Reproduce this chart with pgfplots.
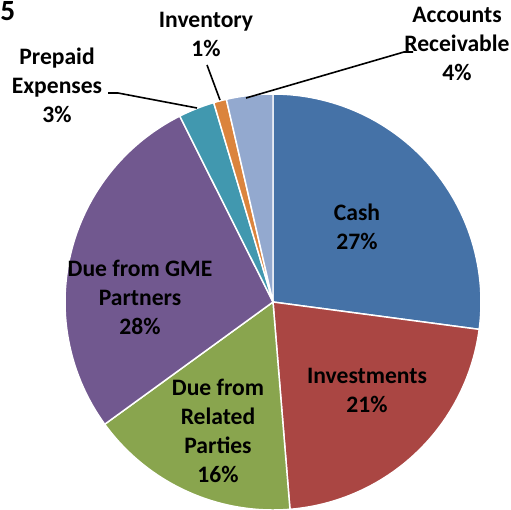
\documentclass[border=0pt]{standalone}
\usepackage{pgfplots}
\pgfplotsset{compat=1.18}
\usepackage{fontspec}
\setmainfont{Carlito}

\definecolor{cCash}{HTML}{4572A7}
\definecolor{cInv}{HTML}{AA4643}
\definecolor{cRel}{HTML}{89A54E}
\definecolor{cGME}{HTML}{71588F}
\definecolor{cPre}{HTML}{4198AF}
\definecolor{cInt}{HTML}{DB843D}
\definecolor{cAR}{HTML}{93A9CF}

\tikzset{
  slice/.style={draw=white, line width=1.1pt},
  lbl/.style={font=\fontsize{17.7}{21.75}\selectfont\bfseries, align=center, text=black},
}

% shares in percent, clockwise from 12 o'clock
\def\vCash{27.1}
\def\vInv{21.6}
\def\vRel{16.3}
\def\vGME{27.6}
\def\vPre{2.8}
\def\vInt{1.0}
\def\vAR{3.6}

\pgfmathsetmacro\aA{90}
\pgfmathsetmacro\aB{\aA-3.6*\vCash}
\pgfmathsetmacro\aC{\aB-3.6*\vInv}
\pgfmathsetmacro\aD{\aC-3.6*\vRel}
\pgfmathsetmacro\aE{\aD-3.6*\vGME}
\pgfmathsetmacro\aF{\aE-3.6*\vPre}
\pgfmathsetmacro\aG{\aF-3.6*\vInt}
\pgfmathsetmacro\aH{\aG-3.6*\vAR}

\begin{document}
\begin{tikzpicture}
\begin{axis}[
  width=383.25pt, height=382.5pt,
  scale only axis,
  hide axis,
  xmin=0, xmax=511,
  ymin=0, ymax=510,
  y dir=reverse,
  clip=false,
  samples=60,
]
  \addplot[slice, fill=cCash, domain=\aB:\aA] ({273+208*cos(x)},{302-208*sin(x)}) -- (axis cs:273,302) -- cycle;
  \addplot[slice, fill=cInv,  domain=\aC:\aB] ({273+208*cos(x)},{302-208*sin(x)}) -- (axis cs:273,302) -- cycle;
  \addplot[slice, fill=cRel,  domain=\aD:\aC] ({273+208*cos(x)},{302-208*sin(x)}) -- (axis cs:273,302) -- cycle;
  \addplot[slice, fill=cGME,  domain=\aE:\aD] ({273+208*cos(x)},{302-208*sin(x)}) -- (axis cs:273,302) -- cycle;
  \addplot[slice, fill=cPre,  domain=\aF:\aE, samples=10] ({273+208*cos(x)},{302-208*sin(x)}) -- (axis cs:273,302) -- cycle;
  \addplot[slice, fill=cInt,  domain=\aG:\aF, samples=5] ({273+208*cos(x)},{302-208*sin(x)}) -- (axis cs:273,302) -- cycle;
  \addplot[slice, fill=cAR,   domain=\aH:\aG, samples=10] ({273+208*cos(x)},{302-208*sin(x)}) -- (axis cs:273,302) -- cycle;

  % leader lines
  \draw[black, line width=1.2pt] (axis cs:108,93) -- (axis cs:118,93) -- (axis cs:197,108);
  \draw[black, line width=1.2pt] (axis cs:207,65) -- (axis cs:220,100);
  \draw[black, line width=1.2pt] (axis cs:413,52) -- (axis cs:404,52) -- (axis cs:246,98);

  \node[lbl] at (axis cs:357,227) {Cash\\27\%};
  \node[lbl] at (axis cs:367,390) {Investments\\21\%};
  \node[lbl] at (axis cs:218,431) {Due from\\Related\\Parties\\16\%};
  \node[lbl] at (axis cs:140,297) {Due from GME\\Partners\\28\%};
  \node[lbl] at (axis cs:57,85) {Prepaid\\Expenses\\3\%};
  \node[lbl] at (axis cs:206,34) {Inventory\\1\%};
  \node[lbl] at (axis cs:457,44) {Accounts\\Receivable\\4\%};
  \node[lbl, font=\fontsize{22}{26}\selectfont\bfseries, anchor=base west, inner sep=0pt] at (axis cs:0,21) {5};
\end{axis}
\pgfresetboundingbox
\path[use as bounding box] (current axis.south west) rectangle (current axis.north east);
\end{tikzpicture}
\end{document}
